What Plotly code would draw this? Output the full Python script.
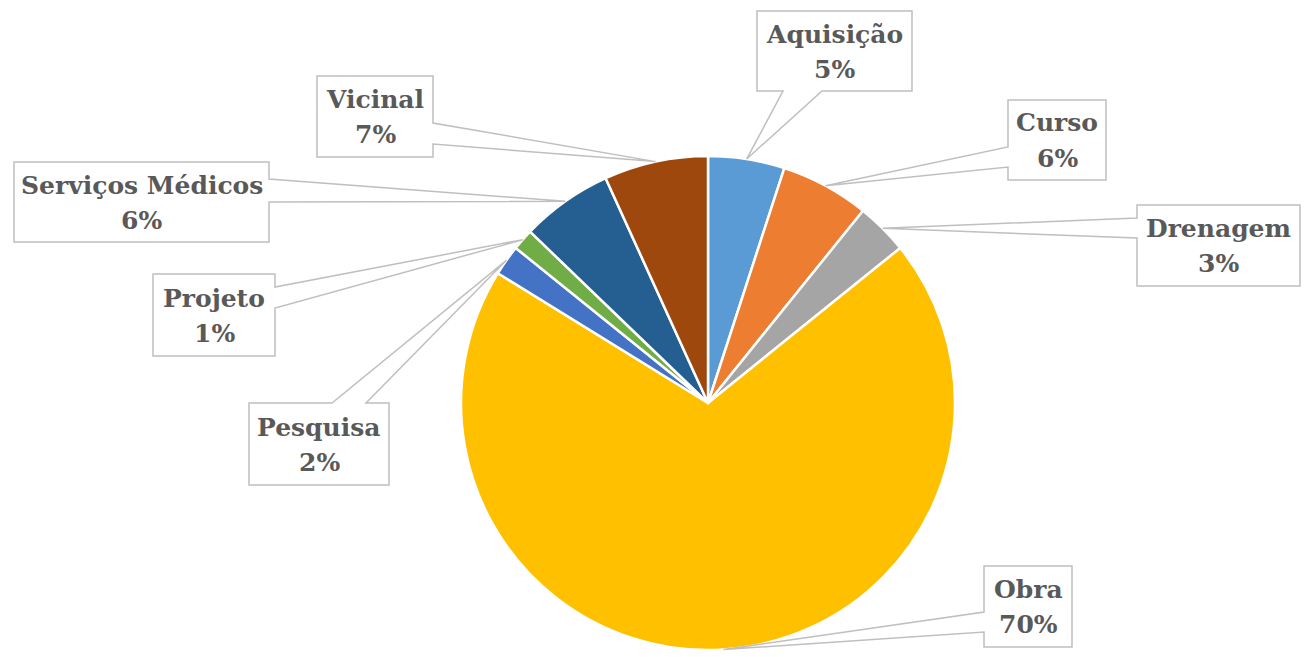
import math
import plotly.graph_objects as go

# ---- data ----
categories = ["Aquisição", "Curso", "Drenagem", "Obra", "Pesquisa", "Projeto", "Serviços Médicos", "Vicinal"]
values = [5.0, 5.8, 3.4, 69.6, 2.0, 1.4, 6.0, 6.8]
colors = ["#5B9BD5", "#ED7D31", "#A5A5A5", "#FFC000", "#4472C4", "#70AD47", "#255E91", "#9E480E"]

# ---- layout (pixels) ----
W, H = 1307, 657
CX, CY, R = 708, 403, 247
# label boxes: (x0, y0, x1, y1), callout side, two attach coords along that side
boxes = [
    (757, 11, 912, 91), (1008, 100, 1106, 180), (1137, 205, 1300, 286), (984, 566, 1072, 647),
    (249, 403, 389, 485), (153, 274, 275, 356), (14, 162, 269, 242), (317, 76, 433, 157),
]
sides = ["bottom", "left", "left", "left", "top", "right", "right", "right"]
attach = [(783, 822), (147, 167), (218, 238), (612, 632), (332, 366), (287, 308), (179, 202), (123, 144)]


def px(x):
    return x / W


def py(y):
    return 1 - y / H


fig = go.Figure(go.Pie(
    labels=categories, values=values, sort=False, direction="clockwise", rotation=0,
    marker=dict(colors=colors, line=dict(color="white", width=2.5)),
    textinfo="none", hoverinfo="label+percent", showlegend=False,
    domain=dict(x=[(CX - R) / W, (CX + R) / W], y=[(H - CY - R) / H, (H - CY + R) / H]),
))

total = sum(values)
cum = 0.0
shapes = []
annotations = []
for i, (cat, v) in enumerate(zip(categories, values)):
    mid = (cum + v / 2) / total
    cum += v
    ang = 2 * math.pi * mid
    tx, ty = CX + R * math.sin(ang), CY - R * math.cos(ang)
    x0, y0, x1, y1 = boxes[i]
    a, b = attach[i]
    s = sides[i]
    pts = [(x0, y0)]
    if s == "top":
        pts += [(a, y0), (tx, ty), (b, y0)]
    pts.append((x1, y0))
    if s == "right":
        pts += [(x1, a), (tx, ty), (x1, b)]
    pts.append((x1, y1))
    if s == "bottom":
        pts += [(b, y1), (tx, ty), (a, y1)]
    pts.append((x0, y1))
    if s == "left":
        pts += [(x0, b), (tx, ty), (x0, a)]
    path = "M " + " L ".join(f"{px(x):.5f},{py(y):.5f}" for x, y in pts) + " Z"
    shapes.append(dict(type="path", path=path, xref="paper", yref="paper",
                       fillcolor="white", line=dict(color="#BFBFBF", width=1.5), layer="above"))
    bcx, bcy = (x0 + x1) / 2, (y0 + y1) / 2
    pct = f"{round(v / total * 100)}%"
    for txt, dy in ((cat, -17), (pct, 18)):
        annotations.append(dict(
            text=f"<b>{txt}</b>", x=px(bcx), y=py(bcy + dy), xref="paper", yref="paper",
            xanchor="center", yanchor="middle", showarrow=False,
            font=dict(family="DejaVu Serif", size=25, color="#595959"),
        ))

fig.update_layout(
    width=W, height=H, margin=dict(l=0, r=0, t=0, b=0),
    paper_bgcolor="white", plot_bgcolor="white",
    shapes=shapes, annotations=annotations,
)
fig.write_html("out.html", config={"displayModeBar": False},
               post_script="document.body.style.margin='0';document.body.style.overflow='hidden';")
